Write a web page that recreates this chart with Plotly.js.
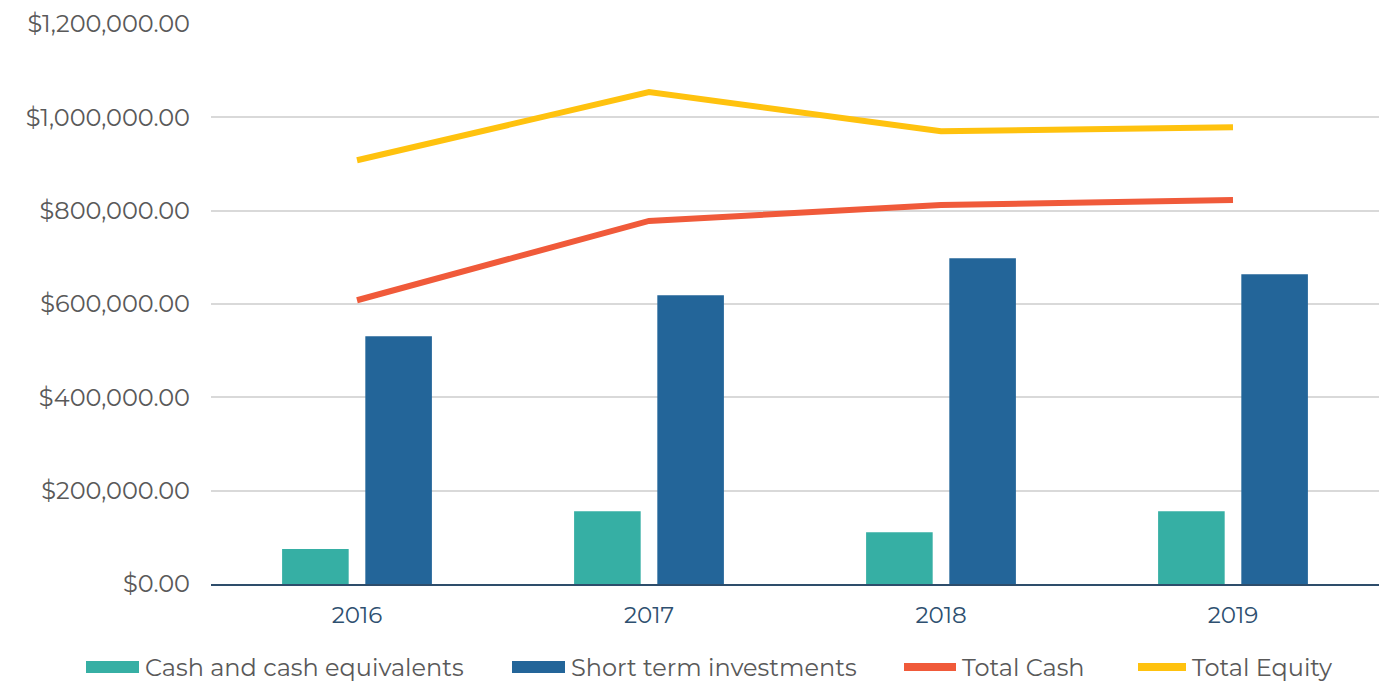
<!DOCTYPE html>
<html>
<head>
<meta charset="utf-8">
<script src="https://cdn.plot.ly/plotly-3.0.1.min.js"></script>
<style>html,body{margin:0;padding:0;background:#fff;}#chart{width:1395px;height:682px;}</style>
</head>
<body>
<div id="chart"></div>
<script>
const years = ['2016', '2017', '2018', '2019'];
const cashEquivalents = [75000, 156000, 111000, 156000];
const shortTermInvestments = [531000, 619000, 698000, 664000];
const totalCash = [608000, 778000, 812000, 823000];
const totalEquity = [908000, 1054000, 970000, 979000];
const seriesNames = ['Cash and cash equivalents', 'Short term investments', 'Total Cash', 'Total Equity'];
const seriesColors = ['#36AFA4', '#236599', '#F05A3A', '#FFC20E'];

const font = 'Montserrat, "DejaVu Sans", sans-serif';

const traces = [
  {type: 'bar', name: seriesNames[0], x: years, y: cashEquivalents, marker: {color: seriesColors[0]}},
  {type: 'bar', name: seriesNames[1], x: years, y: shortTermInvestments, marker: {color: seriesColors[1]}},
  {type: 'scatter', mode: 'lines', name: seriesNames[2], x: years, y: totalCash, line: {color: seriesColors[2], width: 6}},
  {type: 'scatter', mode: 'lines', name: seriesNames[3], x: years, y: totalEquity, line: {color: seriesColors[3], width: 6}}
];

// Manual legend (wide swatches like the original), positioned in pixels then converted to paper coords
const W = 1395, H = 682;
const M = {l: 211, r: 16, t: 24, b: 98};
const pw = W - M.l - M.r, ph = H - M.t - M.b;
const px = v => (v - M.l) / pw;
const py = v => (H - M.b - v) / ph;
const legendY = 667;
const swatchX = [86, 512, 901, 1135];
const swatchW = [53, 53, 57, 53];
const textX = [143, 569, 960, 1190];
const shapes = [];
const annotations = [];
for (let i = 0; i < 4; i++) {
  if (i < 2) {
    shapes.push({type: 'rect', xref: 'paper', yref: 'paper', x0: px(swatchX[i]), x1: px(swatchX[i] + swatchW[i]), y0: py(legendY + 6), y1: py(legendY - 6), fillcolor: seriesColors[i], line: {width: 0}});
  } else {
    shapes.push({type: 'line', xref: 'paper', yref: 'paper', x0: px(swatchX[i] + 3), x1: px(swatchX[i] + swatchW[i] - 2), y0: py(legendY), y1: py(legendY), line: {color: seriesColors[i], width: 8}});
  }
  annotations.push({xref: 'paper', yref: 'paper', x: px(textX[i]), y: py(legendY), xanchor: 'left', yanchor: 'middle', text: seriesNames[i], showarrow: false, font: {family: font, size: 24, color: '#595959'}});
}

const layout = {
  width: W, height: H,
  margin: Object.assign({autoexpand: false}, M),
  paper_bgcolor: '#fff', plot_bgcolor: '#fff',
  font: {family: font, size: 24, color: '#595959'},
  barmode: 'group', bargap: 0.43, bargroupgap: 0.2,
  showlegend: false,
  xaxis: {type: 'category', showgrid: false, zeroline: false, showline: true, linecolor: '#2E4D6B', linewidth: 2, ticks: '', tickfont: {size: 23, color: '#2E5070'}, ticklabelstandoff: 9},
  yaxis: {range: [0, 1200000], dtick: 200000, tickformat: '$,.2f', showgrid: true, gridcolor: '#D9D9D9', gridwidth: 2, zeroline: false, showline: false, ticks: '', ticklabelstandoff: 20, tickfont: {size: 24, color: '#595959'}},
  shapes: shapes,
  annotations: annotations,
  hovermode: false
};

Plotly.newPlot('chart', traces, layout, {displayModeBar: false, staticPlot: true});
</script>
</body>
</html>
